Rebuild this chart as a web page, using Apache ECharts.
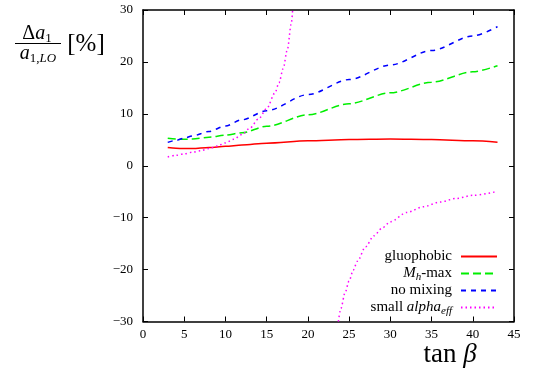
<!DOCTYPE html>
<html><head><meta charset="utf-8">
<script src="https://cdn.jsdelivr.net/npm/echarts@6/dist/echarts.min.js"></script>
<style>html,body{margin:0;padding:0;background:#fff}#c{width:535px;height:376px}</style>
</head><body><div id="c"></div>
<script>
// ---- data ----
const xTickMin = 0, xTickMax = 45, xTickStep = 5;
const yTickMin = -30, yTickMax = 30, yTickStep = 10;

const tanBeta = [3, 4, 5, 6, 8, 10, 12, 15, 20, 25, 30, 35, 40, 43];
const gluophobic = [3.5, 3.35, 3.3, 3.3, 3.5, 3.75, 4.0, 4.35, 4.8, 5.05, 5.15, 5.05, 4.8, 4.55];
const mhMax = [5.3, 5.15, 5.1, 5.15, 5.5, 5.9, 6.35, 7.6, 9.8, 11.95, 14.05, 16.1, 18.1, 19.27];
const noMixing = [4.5, 4.9, 5.3, 5.75, 6.6, 7.65, 8.85, 10.6, 13.7, 16.6, 19.4, 22.2, 25.0, 26.8];

const alphaLowX = [3, 4, 5, 6, 7, 8, 9, 10, 11, 12, 13, 14, 15, 16, 16.5, 17, 17.5, 18, 18.15];
const alphaLowY = [1.7, 2.0, 2.3, 2.6, 2.9, 3.3, 3.8, 4.4, 5.1, 6.0, 7.3, 9.0, 11.0, 14.0, 16.0, 18.7, 22.3, 27.5, 30];
const alphaHighX = [23.7, 24, 24.5, 25, 25.5, 26, 27, 28, 29, 30, 32, 34, 36, 38, 40, 43];
const alphaHighY = [-30, -27.5, -24.5, -22.2, -20.1, -18.4, -15.6, -13.5, -12.0, -10.8, -9.0, -7.9, -7.0, -6.3, -5.7, -4.95];

const seriesNames = ['gluophobic', 'Mh-max', 'no mixing', 'small alphaeff'];
const legendLabels = {
  'gluophobic': '{n|gluophobic}',
  'Mh-max': '{i|M}{s|h}{n|-max}',
  'no mixing': '{n|no mixing}',
  'small alphaeff': '{n|small }{i|alpha}{s|eff}'
};

// ---- chart ----
const FONT = 'Liberation Serif';
const pair = (xs, ys) => xs.map((x, i) => [x, ys[i]]);
const alphaData = pair(alphaLowX, alphaLowY).concat([[20.9, null]], pair(alphaHighX, alphaHighY));

const richStyles = {
  n: {fontFamily: FONT, fontSize: 15, color: '#000'},
  i: {fontFamily: FONT, fontSize: 15, fontStyle: 'italic', color: '#000'},
  s: {fontFamily: FONT, fontSize: 11, fontStyle: 'italic', color: '#000', padding: [8, 0, 0, 0]}
};

function axisCommon(pos, showLabel, isX) {
  return {
    type: 'value', position: pos,
    min: isX ? xTickMin : yTickMin, max: isX ? xTickMax : yTickMax,
    interval: isX ? xTickStep : yTickStep,
    axisLine: {show: true, onZero: false, lineStyle: {color: '#000', width: 1.5}},
    axisTick: {show: true, inside: true, length: 5, lineStyle: {color: '#000', width: 1}},
    axisLabel: {show: showLabel, fontFamily: FONT, fontSize: 13, color: '#000',
      margin: isX ? 7 : 10, formatter: v => String(v).replace('-', '\u2212')},
    splitLine: {show: false}
  };
}

const lineColors = ['#ff0000', '#00ee00', '#0000ff', '#ff00ff'];
const lineTypes = ['solid', [8, 4], [5, 5], [1.5, 3]];
const seriesData = [pair(tanBeta, gluophobic), pair(tanBeta, mhMax), pair(tanBeta, noMixing), alphaData];

const legendTops = [249, 266, 283, 300];

const option = {
  backgroundColor: '#fff',
  animation: false,
  grid: {left: 143, right: 21, top: 10, bottom: 54.5, containLabel: false},
  xAxis: [axisCommon('bottom', true, true), axisCommon('top', false, true)],
  yAxis: [axisCommon('left', true, false), axisCommon('right', false, false)],
  legend: seriesNames.map((n, k) => ({
    data: [n], orient: 'vertical', align: 'right', right: 37, top: legendTops[k],
    padding: 0, itemWidth: 36, itemHeight: 14,
    itemStyle: {opacity: 0},
    formatter: name => legendLabels[name],
    textStyle: {fontFamily: FONT, fontSize: 15, color: '#000', padding: [0, 4, 0, 0], rich: richStyles}
  })),
  series: seriesNames.map((n, k) => ({
    name: n, type: 'line', xAxisIndex: 0, yAxisIndex: 0,
    data: seriesData[k], showSymbol: false, symbol: 'none',
    smooth: 0.3, smoothMonotone: 'x', connectNulls: false,
    lineStyle: {color: lineColors[k], width: 1.5, type: lineTypes[k]},
    itemStyle: {color: lineColors[k]}
  })),
  graphic: [
    {type: 'text', x: 37, y: 34, style: {
      text: '{n|\u0394}{i|a}{s|1}', align: 'center', verticalAlign: 'middle',
      textAlign: 'center', textVerticalAlign: 'middle',
      rich: {n: {fontFamily: FONT, fontSize: 20, color: '#000'},
             i: {fontFamily: FONT, fontSize: 20, fontStyle: 'italic', color: '#000'},
             s: {fontFamily: FONT, fontSize: 13, color: '#000', padding: [9, 0, 0, 0]}}}},
    {type: 'line', shape: {x1: 15, y1: 43.5, x2: 61, y2: 43.5}, style: {stroke: '#000', lineWidth: 1}},
    {type: 'text', x: 38, y: 54, style: {
      text: '{i|a}{s|1,}{t|LO}', align: 'center', verticalAlign: 'middle',
      textAlign: 'center', textVerticalAlign: 'middle',
      rich: {i: {fontFamily: FONT, fontSize: 20, fontStyle: 'italic', color: '#000'},
             s: {fontFamily: FONT, fontSize: 13, color: '#000', padding: [9, 0, 0, 0]},
             t: {fontFamily: FONT, fontSize: 13, fontStyle: 'italic', color: '#000', padding: [9, 0, 0, 0]}}}},
    {type: 'text', x: 86, y: 44, style: {
      text: '[%]', fontFamily: FONT, fontSize: 25, fill: '#000',
      align: 'center', verticalAlign: 'middle', textAlign: 'center', textVerticalAlign: 'middle'}},
    {type: 'text', x: 450, y: 355, style: {
      text: '{n|tan }{i|\u03b2}', align: 'center', verticalAlign: 'middle',
      textAlign: 'center', textVerticalAlign: 'middle',
      rich: {n: {fontFamily: FONT, fontSize: 27, color: '#000'},
             i: {fontFamily: FONT, fontSize: 27, fontStyle: 'italic', color: '#000'}}}}
  ]
};

const chart = echarts.init(document.getElementById('c'), null, {renderer: 'canvas'});
chart.setOption(option);
</script>
</body></html>
